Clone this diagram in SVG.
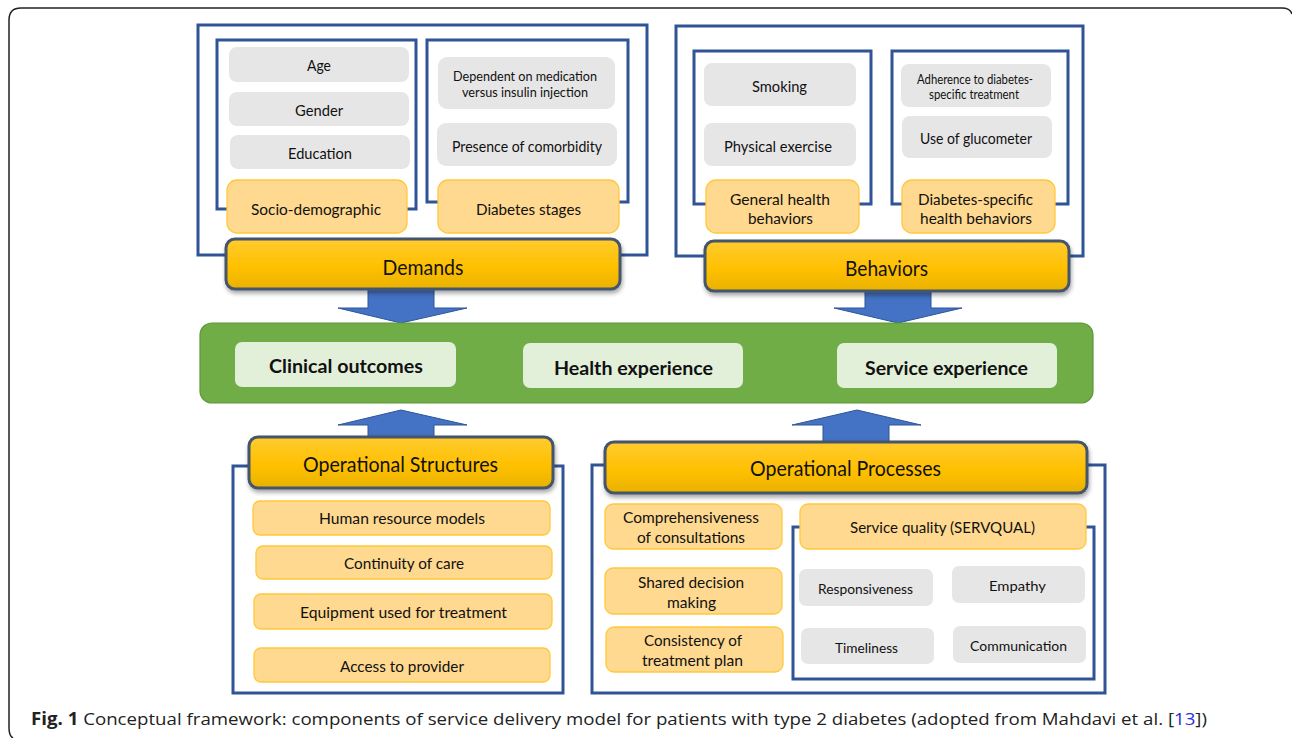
<svg xmlns="http://www.w3.org/2000/svg" width="1292" height="738" viewBox="0 0 1292 738">
<defs>
<linearGradient id="gold" x1="0" y1="0" x2="0" y2="1">
<stop offset="0" stop-color="#FFCB30"/>
<stop offset="0.55" stop-color="#FFC000"/>
<stop offset="1" stop-color="#E9B200"/>
</linearGradient>
<filter id="sh" x="-5%" y="-20%" width="110%" height="150%">
<feDropShadow dx="1" dy="3" stdDeviation="2" flood-color="#000" flood-opacity="0.35"/>
</filter>
<style>
.frame{fill:#fff;stroke:#2F5597;stroke-width:3}
.gray{fill:#E7E6E6;stroke:none}
.org{fill:#FFD98F;stroke:#FFC93A;stroke-width:1.3}
.bar{fill:url(#gold);stroke:#44546A;stroke-width:3;filter:url(#sh)}
.green{fill:#70AD47;stroke:#5E973A;stroke-width:1.2}
.lg{fill:#E2EFD9;stroke:none}
.arrow{fill:#4472C4;stroke:#2F5597;stroke-width:1}
text{font-family:Lato,"Liberation Sans",sans-serif;fill:#111;text-anchor:middle;dominant-baseline:central}
.t13{font-size:13px}
.t14{font-size:14px}
.t15{font-size:15px}
.t16{font-size:16px}
.t20{font-size:21px}
.tb{font-size:19px;font-weight:bold}
.cap{font-family:"Open Sans","Liberation Sans",sans-serif;font-size:17px;text-anchor:start;dominant-baseline:auto;fill:#222}
</style>
</defs>
<rect width="1292" height="738" fill="#fff"/>
<path d="M13 738 Q9 736 9 728 L9 20 Q9 8 21 8 L1282 8 Q1290 8 1292 14" fill="none" stroke="#222" stroke-width="1.5"/>

<g id="connectors">
<polygon class="arrow" points="368,289 434,289 434,308 467,308 401,323 338,308 368,308"/>
<polygon class="arrow" points="865,291 931,291 931,308 962,308 898,323 834,308 865,308"/>
<polygon class="arrow" points="401,410 467,425 434,425 434,442 368,442 368,425 338,425"/>
<polygon class="arrow" points="857,410 921,425 889,425 889,446 823,446 823,425 792,425"/>
</g>

<g id="demands">
<rect class="frame" x="198" y="25" width="449" height="230"/>
<rect class="frame" x="217" y="40" width="199" height="169"/>
<rect class="frame" x="427" y="40" width="201" height="162"/>
<g id="age"><rect class="gray" x="229" y="47" width="180" height="35" rx="8"/><text class="t15" x="319" y="65" textLength="24" lengthAdjust="spacingAndGlyphs">Age</text></g>
<g id="gender"><rect class="gray" x="229" y="92" width="180" height="34" rx="8"/><text class="t15" x="319" y="110" textLength="48" lengthAdjust="spacingAndGlyphs">Gender</text></g>
<g id="education"><rect class="gray" x="230" y="135" width="180" height="34" rx="8"/><text class="t15" x="320" y="153" textLength="64" lengthAdjust="spacingAndGlyphs">Education</text></g>
<g id="socio"><rect class="org" x="227" y="180" width="180" height="53" rx="10"/><text class="t16" x="316" y="208" textLength="130" lengthAdjust="spacingAndGlyphs">Socio-demographic</text></g>
<g id="dependent"><rect class="gray" x="438" y="57" width="177" height="52" rx="9"/><text class="t13" x="525" y="76" textLength="144" lengthAdjust="spacingAndGlyphs">Dependent on medication</text><text class="t13" x="525" y="92" textLength="126" lengthAdjust="spacingAndGlyphs">versus insulin injection</text></g>
<g id="comorbidity"><rect class="gray" x="437" y="123" width="180" height="43" rx="9"/><text class="t15" x="527" y="146" textLength="150" lengthAdjust="spacingAndGlyphs">Presence of comorbidity</text></g>
<g id="stages"><rect class="org" x="438" y="180" width="181" height="53" rx="10"/><text class="t16" x="528.5" y="208" textLength="105" lengthAdjust="spacingAndGlyphs">Diabetes stages</text></g>
<g id="demands-bar"><rect class="bar" x="226" y="239" width="394" height="50" rx="9"/><text class="t20" x="423" y="266" textLength="81" lengthAdjust="spacingAndGlyphs">Demands</text></g>
</g>

<g id="behaviors">
<rect class="frame" x="676" y="26" width="407" height="230"/>
<rect class="frame" x="694" y="51" width="177" height="153"/>
<rect class="frame" x="892" y="51" width="176" height="153"/>
<g id="smoking"><rect class="gray" x="704" y="63" width="152" height="43" rx="8"/><text class="t15" x="779.5" y="86" textLength="55" lengthAdjust="spacingAndGlyphs">Smoking</text></g>
<g id="exercise"><rect class="gray" x="704" y="123" width="152" height="43" rx="8"/><text class="t15" x="778" y="146" textLength="108" lengthAdjust="spacingAndGlyphs">Physical exercise</text></g>
<g id="adherence"><rect class="gray" x="901" y="64" width="150" height="43" rx="8"/><text class="t13" x="975" y="79" textLength="116" lengthAdjust="spacingAndGlyphs">Adherence to diabetes-</text><text class="t13" x="974" y="94" textLength="90" lengthAdjust="spacingAndGlyphs">specific treatment</text></g>
<g id="glucometer"><rect class="gray" x="902" y="116" width="150" height="42" rx="8"/><text class="t15" x="976" y="138" textLength="112" lengthAdjust="spacingAndGlyphs">Use of glucometer</text></g>
<g id="general"><rect class="org" x="706" y="180" width="153" height="53" rx="10"/><text class="t16" x="780" y="198" textLength="100" lengthAdjust="spacingAndGlyphs">General health</text><text class="t16" x="780.5" y="217" textLength="65" lengthAdjust="spacingAndGlyphs">behaviors</text></g>
<g id="specific"><rect class="org" x="902" y="180" width="153" height="53" rx="10"/><text class="t16" x="975.5" y="198" textLength="115" lengthAdjust="spacingAndGlyphs">Diabetes-specific</text><text class="t16" x="976" y="217" textLength="112" lengthAdjust="spacingAndGlyphs">health behaviors</text></g>
<g id="behaviors-bar"><rect class="bar" x="705" y="241" width="364" height="50" rx="9"/><text class="t20" x="886.5" y="267" textLength="83" lengthAdjust="spacingAndGlyphs">Behaviors</text></g>
</g>

<g id="outcomes">
<rect class="green" x="200" y="323" width="893" height="80" rx="12"/>
<g id="clinical"><rect class="lg" x="235" y="342" width="221" height="45" rx="7"/><text class="tb" x="346" y="365" textLength="154" lengthAdjust="spacingAndGlyphs">Clinical outcomes</text></g>
<g id="health"><rect class="lg" x="523" y="343" width="220" height="45" rx="7"/><text class="tb" x="633.5" y="367" textLength="159" lengthAdjust="spacingAndGlyphs">Health experience</text></g>
<g id="service"><rect class="lg" x="837" y="343" width="220" height="45" rx="7"/><text class="tb" x="946.5" y="367" textLength="163" lengthAdjust="spacingAndGlyphs">Service experience</text></g>
</g>

<g id="structures">
<rect class="frame" x="233" y="466" width="330" height="227"/>
<g id="structures-bar"><rect class="bar" x="249" y="437" width="304" height="51" rx="9"/><text class="t20" x="400.5" y="463" textLength="195" lengthAdjust="spacingAndGlyphs">Operational Structures</text></g>
<g id="human"><rect class="org" x="253" y="501" width="297" height="34" rx="7"/><text class="t15" x="402" y="518" textLength="166" lengthAdjust="spacingAndGlyphs">Human resource models</text></g>
<g id="continuity"><rect class="org" x="256" y="546" width="296" height="33" rx="7"/><text class="t15" x="404" y="563" textLength="120" lengthAdjust="spacingAndGlyphs">Continuity of care</text></g>
<g id="equipment"><rect class="org" x="254" y="594" width="298" height="35" rx="7"/><text class="t15" x="403.5" y="612" textLength="207" lengthAdjust="spacingAndGlyphs">Equipment used for treatment</text></g>
<g id="access"><rect class="org" x="254" y="648" width="296" height="34" rx="7"/><text class="t15" x="402" y="666" textLength="124" lengthAdjust="spacingAndGlyphs">Access to provider</text></g>
</g>

<g id="processes">
<rect class="frame" x="592" y="465" width="513" height="228"/>
<g id="processes-bar"><rect class="bar" x="605" y="442" width="482" height="51" rx="9"/><text class="t20" x="845.5" y="467" textLength="191" lengthAdjust="spacingAndGlyphs">Operational Processes</text></g>
<g id="comprehensiveness"><rect class="org" x="605" y="504" width="177" height="45" rx="8"/><text class="t15" x="691" y="517" textLength="136" lengthAdjust="spacingAndGlyphs">Comprehensiveness</text><text class="t15" x="691" y="537" textLength="108" lengthAdjust="spacingAndGlyphs">of consultations</text></g>
<g id="shared"><rect class="org" x="605" y="568" width="177" height="46" rx="8"/><text class="t15" x="691" y="582" textLength="106" lengthAdjust="spacingAndGlyphs">Shared decision</text><text class="t15" x="691.5" y="602" textLength="49" lengthAdjust="spacingAndGlyphs">making</text></g>
<g id="consistency"><rect class="org" x="606" y="627" width="177" height="45" rx="8"/><text class="t15" x="693" y="640" textLength="98" lengthAdjust="spacingAndGlyphs">Consistency of</text><text class="t15" x="692.5" y="660" textLength="101" lengthAdjust="spacingAndGlyphs">treatment plan</text></g>
<g id="servqual">
<rect class="frame" x="793" y="527" width="301" height="152"/>
<g id="service-quality"><rect class="org" x="800" y="504" width="286" height="45" rx="8"/><text class="t15" x="942.5" y="527" textLength="185" lengthAdjust="spacingAndGlyphs">Service quality (SERVQUAL)</text></g>
<g id="responsiveness"><rect class="gray" x="799" y="569" width="134" height="37" rx="7"/><text class="t14" x="865.5" y="588" textLength="95" lengthAdjust="spacingAndGlyphs">Responsiveness</text></g>
<g id="empathy"><rect class="gray" x="952" y="566" width="133" height="37" rx="7"/><text class="t14" x="1017.5" y="585" textLength="57" lengthAdjust="spacingAndGlyphs">Empathy</text></g>
<g id="timeliness"><rect class="gray" x="801" y="628" width="133" height="36" rx="7"/><text class="t14" x="866.5" y="647" textLength="63" lengthAdjust="spacingAndGlyphs">Timeliness</text></g>
<g id="communication"><rect class="gray" x="953" y="626" width="133" height="37" rx="7"/><text class="t14" x="1018.5" y="645" textLength="97" lengthAdjust="spacingAndGlyphs">Communication</text></g>
</g>
</g>

<text class="cap" x="31" y="725" textLength="1176" lengthAdjust="spacingAndGlyphs"><tspan font-weight="bold">Fig. 1</tspan> Conceptual framework: components of service delivery model for patients with type 2 diabetes (adopted from Mahdavi et al. [<tspan fill="#2B2BE0">13</tspan>])</text>
</svg>
